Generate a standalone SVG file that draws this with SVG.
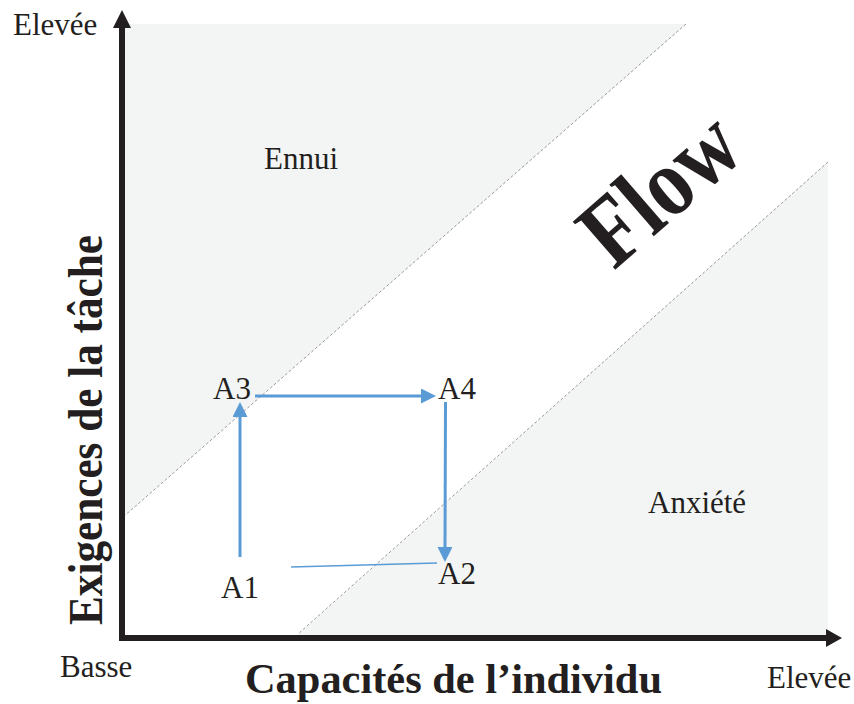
<svg xmlns="http://www.w3.org/2000/svg" width="854" height="704" viewBox="0 0 854 704">
<style>
text { font-family: "Liberation Serif", "Times New Roman", serif; fill: #231f20; }
.lbl { font-size: 31px; }
.bold { font-weight: bold; }
.zone { fill: #f3f4f4; stroke: none; }
.dash { stroke: #9a9a9a; stroke-width: 1; stroke-dasharray: 3 2; fill: none; }
.axis { stroke: #231f20; stroke-width: 6; fill: none; }
.conn { stroke: #5b9bd5; stroke-width: 3; fill: none; }
.thin { stroke: #5b9bd5; stroke-width: 1.5; fill: none; }
</style>
<defs>
<marker id="arr" viewBox="0 0 15 15" refX="0" refY="7.5" markerWidth="15" markerHeight="15" markerUnits="userSpaceOnUse" orient="auto">
<path d="M0,0 L15,7.5 L0,15 Z" fill="#5b9bd5"/>
</marker>
</defs>
<rect width="854" height="704" fill="#ffffff"/>
<g id="zones">
<polygon class="zone" points="125,24 686,24 125,515"/>
<polygon class="zone" points="828,162 828,635 298,635"/>
<line class="dash" x1="686" y1="24" x2="122" y2="518"/>
<line class="dash" x1="828" y1="162" x2="298" y2="634"/>
</g>
<g id="axes">
<line class="axis" x1="122" y1="641" x2="122" y2="27"/>
<polygon points="122,10 113,28 131,28" fill="#231f20"/>
<line class="axis" x1="119" y1="638" x2="827" y2="638"/>
<polygon points="842,638 826,629 826,647" fill="#231f20"/>
</g>
<g id="axis-labels">
<text class="lbl" x="13" y="35">Elevée</text>
<text class="lbl" x="60" y="677">Basse</text>
<text class="lbl" x="767" y="688">Elevée</text>
<text class="bold" x="245" y="693" font-size="43" textLength="417" lengthAdjust="spacingAndGlyphs">Capacités de l’individu</text>
<text class="bold" transform="translate(102,430) rotate(-90)" x="0" y="0" text-anchor="middle" font-size="48" textLength="390" lengthAdjust="spacingAndGlyphs">Exigences de la tâche</text>
</g>
<g id="zone-labels">
<text class="lbl" x="264" y="169">Ennui</text>
<text class="lbl" x="648" y="513">Anxiété</text>
<text class="bold" transform="translate(659,188) rotate(-41)" x="0" y="33" text-anchor="middle" font-size="98" textLength="177" lengthAdjust="spacingAndGlyphs">Flow</text>
</g>
<g id="node-A1"><text class="lbl" x="221" y="598">A1</text></g>
<g id="node-A2"><text class="lbl" x="438" y="584">A2</text></g>
<g id="node-A3"><text class="lbl" x="213" y="399">A3</text></g>
<g id="node-A4"><text class="lbl" x="438" y="399">A4</text></g>
<g id="connectors">
<line class="conn" x1="240" y1="557" x2="240" y2="417" marker-end="url(#arr)"/>
<line class="conn" x1="255" y1="396" x2="421" y2="396" marker-end="url(#arr)"/>
<line class="conn" x1="445.5" y1="402" x2="445" y2="547" marker-end="url(#arr)"/>
<line class="thin" x1="291" y1="567" x2="437" y2="563"/>
</g>
</svg>
